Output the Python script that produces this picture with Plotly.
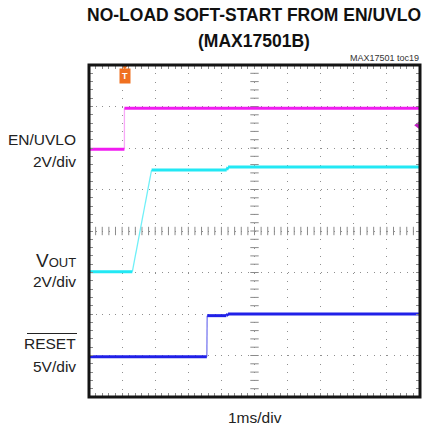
import numpy as np
import plotly.graph_objects as go

# ---- data (time in ms, level in screen divisions) ----
en_t = [0.0, 1.07, 1.07, 10.0]
en_v = [5.97, 5.97, 6.96, 6.96]

vout_t = [0.0, 1.31, 1.89, 4.16, 4.20, 10.0]
vout_v = [3.02, 3.02, 5.47, 5.47, 5.54, 5.54]

reset_t = [0.0, 3.56, 3.57, 4.15, 4.20, 10.0]
reset_v = [0.97, 0.97, 1.96, 1.96, 2.00, 2.00]

trigger_t = 1.08
en_ref_level = 6.55

x_divs = 10
y_divs = 8

MAG = "#f01cf0"
CYA = "#22e8f4"
BLU = "#2020e8"
MAG_E = "#f7a8f7"
CYA_E = "#6ff0f8"
BLU_E = "#7a7af0"

fig = go.Figure()


def add_channel(t, v, col, ecol):
    fx, fy, ex, ey = [], [], [], []
    for i in range(len(t) - 1):
        if abs(v[i + 1] - v[i]) < 0.1 and (t[i + 1] - t[i]) > 0.02:
            fx += [t[i], t[i + 1], None]
            fy += [v[i], v[i + 1], None]
        else:
            ex += [t[i], t[i + 1], None]
            ey += [v[i], v[i + 1], None]
    fig.add_trace(go.Scatter(x=ex, y=ey, mode="lines", line=dict(color=ecol, width=1.3),
                             hoverinfo="skip", showlegend=False))
    fig.add_trace(go.Scatter(x=fx, y=fy, mode="lines", line=dict(color=col, width=3),
                             hoverinfo="skip", showlegend=False))


# center cross tick marks
cx = np.round(np.arange(0, x_divs + 0.001, 0.2), 3)
cy = np.round(np.arange(0, y_divs + 0.001, 0.2), 3)
fig.add_trace(go.Scatter(x=cx, y=[y_divs / 2] * len(cx), mode="markers",
                         marker=dict(symbol="line-ns", size=6, line=dict(width=1, color="#8a8a8a")),
                         hoverinfo="skip", showlegend=False))
fig.add_trace(go.Scatter(x=[x_divs / 2] * len(cy), y=cy, mode="markers",
                         marker=dict(symbol="line-ew", size=6, line=dict(width=1, color="#8a8a8a")),
                         hoverinfo="skip", showlegend=False))

add_channel(en_t, en_v, MAG, MAG_E)
add_channel(vout_t, vout_v, CYA, CYA_E)
add_channel(reset_t, reset_v, BLU, BLU_E)

# channel reference marker (right edge) and trigger marker (top)
fig.add_trace(go.Scatter(x=[9.93], y=[en_ref_level], mode="markers",
                         marker=dict(symbol="triangle-left", size=7, color="#c020c0"),
                         cliponaxis=False, hoverinfo="skip", showlegend=False))
fig.add_trace(go.Scatter(x=[trigger_t], y=[y_divs - 0.05], mode="markers",
                         marker=dict(symbol="triangle-down", size=5, color="#f07020"),
                         cliponaxis=False, hoverinfo="skip", showlegend=False))

L, R, T, B = 89, 5, 65, 34
W, H = 425, 431
PW, PH = W - L - R, H - T - B


def px(x):
    return (x - L) / PW


def py(y):
    return (H - B - y) / PH


LAB = dict(family="Liberation Sans, Arial, sans-serif", size=15.5, color="#222")
TIT = dict(family="Liberation Sans, Arial, sans-serif", size=17.5, color="#111")
ann = []
ann.append(dict(text="<b>NO-LOAD SOFT-START FROM EN/UVLO</b>", x=px(254), y=py(15), font=TIT))
ann.append(dict(text="<b>(MAX17501B)</b>", x=px(254), y=py(41), font=TIT))
ann.append(dict(text="MAX17501 toc19", x=px(421), y=py(58), xanchor="right",
                font=dict(family="Liberation Sans, Arial, sans-serif", size=9, color="#333")))
ann.append(dict(text="EN/UVLO", x=px(78), y=py(139), xanchor="right", font=LAB))
ann.append(dict(text="2V/div", x=px(78), y=py(161), xanchor="right", font=LAB))
ann.append(dict(text="V<span style='font-size:13px'>OUT</span>", x=px(78), y=py(260), xanchor="right",
                font=dict(family="Liberation Sans, Arial, sans-serif", size=19, color="#222")))
ann.append(dict(text="2V/div", x=px(78), y=py(281), xanchor="right", font=LAB))
ann.append(dict(text="RESET", x=px(78), y=py(343), xanchor="right", font=LAB))
ann.append(dict(text="5V/div", x=px(78), y=py(366), xanchor="right", font=LAB))
ann.append(dict(text="1ms/div", x=px(255), y=py(418), font=LAB))
ann.append(dict(text="<b>T</b>", x=trigger_t, xref="x", y=py(76), showarrow=False,
                bgcolor="#f07020", borderpad=2,
                font=dict(family="Liberation Sans, Arial", size=9, color="white")))
for a in ann:
    a.setdefault("xref", "paper")
    a.setdefault("yref", "paper")
    a.setdefault("showarrow", False)
    a.setdefault("yanchor", "middle")
    a.setdefault("xanchor", "center")

shapes = [
    dict(type="line", xref="paper", yref="paper", x0=px(27), x1=px(77), y0=py(333.5), y1=py(333.5),
         line=dict(color="#222", width=1.2)),
    # dark scope frame
    dict(type="rect", xref="paper", yref="paper", x0=0, x1=1, y0=0, y1=1,
         line=dict(color="#141414", width=3), layer="above"),
]

axis_common = dict(showline=False, mirror="ticks",
                   ticks="inside", ticklen=4, tickcolor="#8a8a8a", showticklabels=False,
                   zeroline=False, showgrid=True, gridcolor="#8f8f8f", gridwidth=1, dtick=1, tick0=0,
                   fixedrange=True)

fig.update_layout(
    width=W, height=H, margin=dict(l=L, r=R, t=T, b=B),
    paper_bgcolor="white", plot_bgcolor="white",
    annotations=ann, shapes=shapes,
    xaxis=dict(range=[0, x_divs], griddash="1px,7.3px",
               minor=dict(dtick=0.2, ticks="inside", ticklen=4, tickcolor="#8a8a8a", showgrid=False),
               **axis_common),
    yaxis=dict(range=[0, y_divs], griddash="1px,5.62px",
               minor=dict(dtick=0.2, ticks="inside", ticklen=4, tickcolor="#8a8a8a", showgrid=False),
               **axis_common),
)

fig.write_html("out.html", config={"displayModeBar": False},
               post_script="document.body.style.margin='0';document.body.style.overflow='hidden';")
